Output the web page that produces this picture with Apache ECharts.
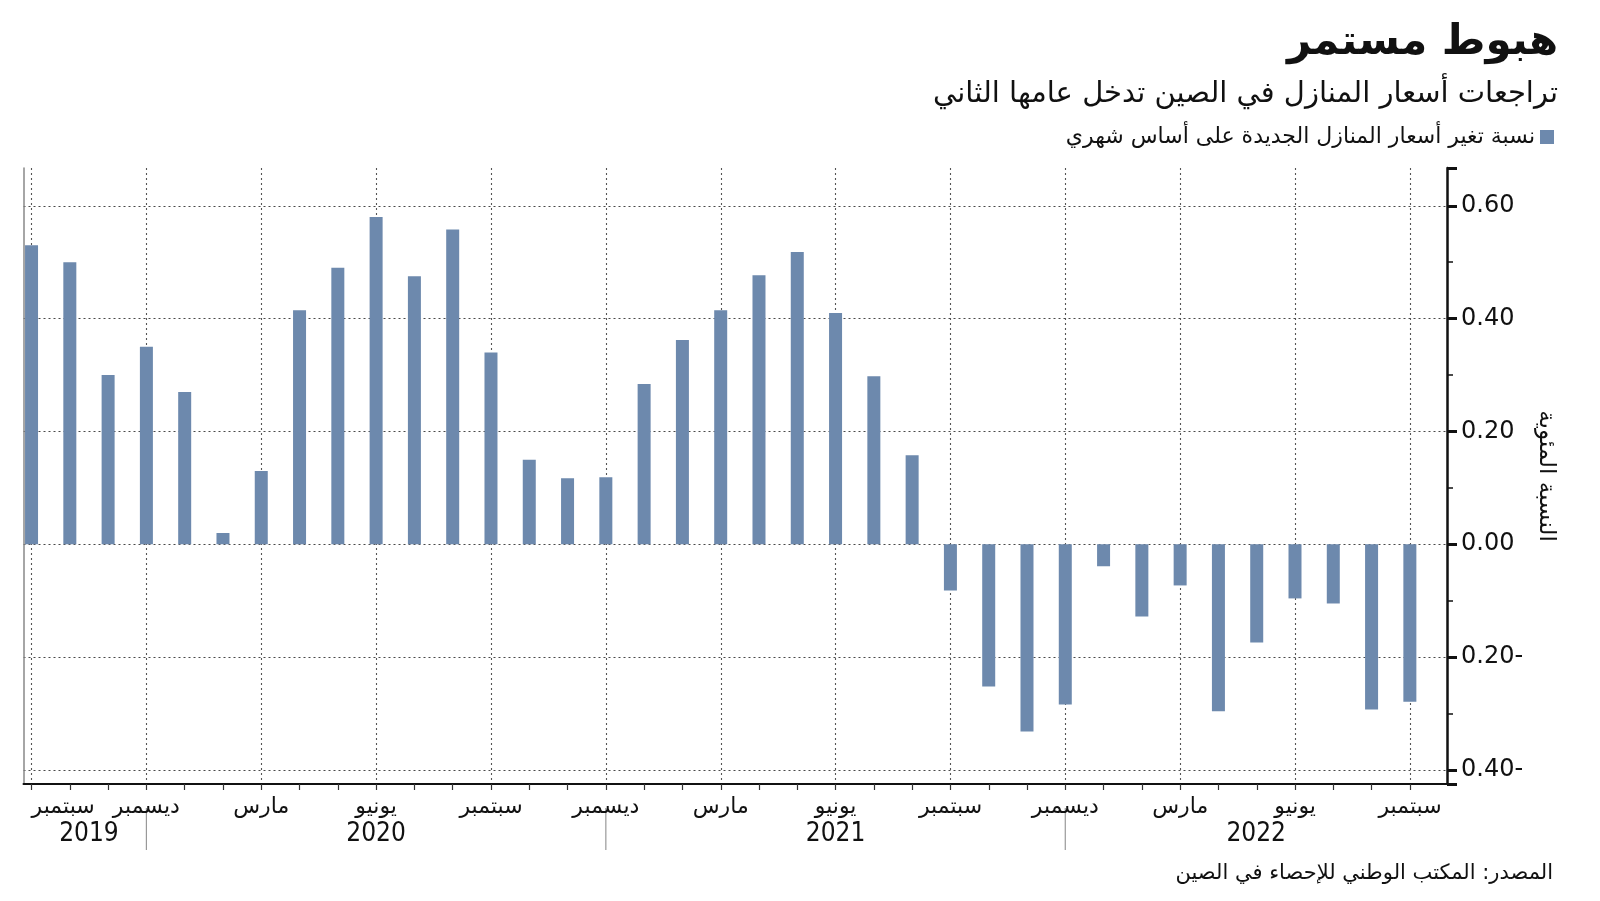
<!DOCTYPE html>
<html><head><meta charset="utf-8">
<script src="https://cdn.jsdelivr.net/npm/echarts@6/dist/echarts.min.js"></script>
<style>html,body{margin:0;padding:0;background:#fff}#c{width:1600px;height:901px}</style>
</head><body><div id="c"></div>
<script>
// ---- data ----
const categories = ['2019-09','2019-10','2019-11','2019-12','2020-01','2020-02','2020-03','2020-04','2020-05','2020-06','2020-07','2020-08','2020-09','2020-10','2020-11','2020-12','2021-01','2021-02','2021-03','2021-04','2021-05','2021-06','2021-07','2021-08','2021-09','2021-10','2021-11','2021-12','2022-01','2022-02','2022-03','2022-04','2022-05','2022-06','2022-07','2022-08','2022-09'];
const values = [0.53,0.50,0.30,0.35,0.27,0.02,0.13,0.415,0.49,0.58,0.475,0.558,0.34,0.15,0.117,0.119,0.284,0.362,0.415,0.477,0.518,0.41,0.298,0.158,-0.082,-0.252,-0.332,-0.284,-0.039,-0.128,-0.073,-0.296,-0.174,-0.096,-0.105,-0.293,-0.279];
const monthNames = ['يناير','فبراير','مارس','أبريل','مايو','يونيو','يوليو','أغسطس','سبتمبر','أكتوبر','نوفمبر','ديسمبر'];
const labelMonths = ['03','06','09','12'];
const seriesName = 'نسبة تغير أسعار المنازل الجديدة على أساس شهري';
const titleText = 'هبوط مستمر';
const subtitleText = 'تراجعات أسعار المنازل في الصين تدخل عامها الثاني';
const sourceText = 'المصدر: المكتب الوطني للإحصاء في الصين';
const yAxisName = 'النسبة المئوية';

const AR = 'DejaVu Sans';
const isLabelIdx = i => labelMonths.indexOf(categories[i].slice(5)) >= 0;

const chart = echarts.init(document.getElementById('c'), null, {renderer:'canvas'});
const dotted = {color:'#4a4a4a', width:1.2, type:[2,3]};
const dottedV = {color:'#555', width:1.1, type:[2,3]};

const option = {
  animation:false,
  backgroundColor:'#fff',
  title:[
    {text:titleText, right:42, top:22, padding:0, textStyle:{fontFamily:AR, fontSize:42, fontWeight:'bold', color:'#111'}},
    {text:subtitleText, right:42, top:80, padding:0, textStyle:{fontFamily:AR, fontSize:29, fontWeight:'normal', color:'#111'}},
    {text:sourceText, right:47, top:863, padding:0, textStyle:{fontFamily:AR, fontSize:21, fontWeight:'normal', color:'#111'}}
  ],
  legend:{
    data:[seriesName], right:46, top:126, align:'right', icon:'rect', itemWidth:14, itemHeight:14, padding:0,
    textStyle:{fontFamily:AR, fontSize:22, color:'#111', padding:[0,0,0,0]}
  },
  grid:[
    {left:23.5, right:153, top:168, bottom:117, containLabel:false},
    {left:31.5, right:190, top:168, bottom:117, containLabel:false}
  ],
  xAxis:[
    {type:'value', gridIndex:0, min:-0.21, max:36.97,
     axisLine:{show:true, onZero:false, lineStyle:{color:'#111', width:2}},
     axisTick:{show:false}, axisLabel:{show:false}, splitLine:{show:false}},
    {type:'category', gridIndex:1, data:categories, boundaryGap:false,
     axisLine:{show:false},
     axisTick:{show:true, interval:0, length:6, lineStyle:{color:'#333', width:1.2}},
     axisLabel:{interval:(i)=>isLabelIdx(i), margin:12, fontFamily:AR, fontSize:22, color:'#111',
       alignMinLabel:'left',
       formatter:(v)=>monthNames[parseInt(v.slice(5),10)-1]},
     splitLine:{show:true, interval:(i)=>isLabelIdx(i), lineStyle:dottedV}}
  ],
  yAxis:[
    {type:'value', gridIndex:0, position:'left', min:-0.425, max:0.667,
     axisLine:{show:true, onZero:false, lineStyle:{color:'#888', width:1.5}},
     axisTick:{show:false}, axisLabel:{show:false}, splitLine:{show:false}},
    {type:'value', gridIndex:0, position:'right', min:-0.425, max:0.667, splitNumber:5,
     name:yAxisName, nameLocation:'middle', nameGap:80, nameRotate:-90,
     nameTextStyle:{fontFamily:AR, fontSize:23, color:'#111'},
     axisLine:{show:true, onZero:false, lineStyle:{color:'#111', width:2.5}},
     axisTick:{show:true, inside:false, length:10, lineStyle:{color:'#111', width:3}},
     minorTick:{show:true, splitNumber:2, length:6, lineStyle:{color:'#111', width:1.5}},
     axisLabel:{show:true, margin:14, fontFamily:'DejaVu Sans', fontSize:24, color:'#111',
       showMinLabel:false, showMaxLabel:false,
       formatter:(v)=> v<0 ? Math.abs(v).toFixed(2)+'-' : v.toFixed(2)},
     splitLine:{show:true, showMinLine:false, showMaxLine:false, lineStyle:dotted}},
    {type:'value', gridIndex:1, show:false}
  ],
  series:[{
    name:seriesName, type:'bar', xAxisIndex:0, yAxisIndex:1, barWidth:13,
    itemStyle:{color:'#6d89ad'},
    data:values.map((v,i)=>[i,v])
  }]
};
chart.setOption(option);

// year labels & separators, positioned through the x scale
const yearBreaks = [];
categories.forEach((c,i)=>{ if (c.slice(5)==='12') yearBreaks.push(i); });
const bounds = [0].concat(yearBreaks).concat([option.xAxis[0].max]);
const years = [];
categories.forEach(c=>{ const y=c.slice(0,4); if(years.indexOf(y)<0) years.push(y); });
const graphics = [];
years.forEach((y,k)=>{
  const cx = chart.convertToPixel({xAxisIndex:0}, (bounds[k]+bounds[k+1])/2);
  graphics.push({type:'text', x:cx, y:834, style:{text:y, fontFamily:'DejaVu Sans Condensed', fontSize:26, fill:'#111', align:'center', verticalAlign:'middle'}});
});
yearBreaks.forEach(i=>{
  const px = chart.convertToPixel({xAxisIndex:0}, i);
  graphics.push({type:'line', shape:{x1:px, y1:808, x2:px, y2:850}, style:{stroke:'#999', lineWidth:1.2}});
});
chart.setOption({graphic:graphics});
</script></body></html>
